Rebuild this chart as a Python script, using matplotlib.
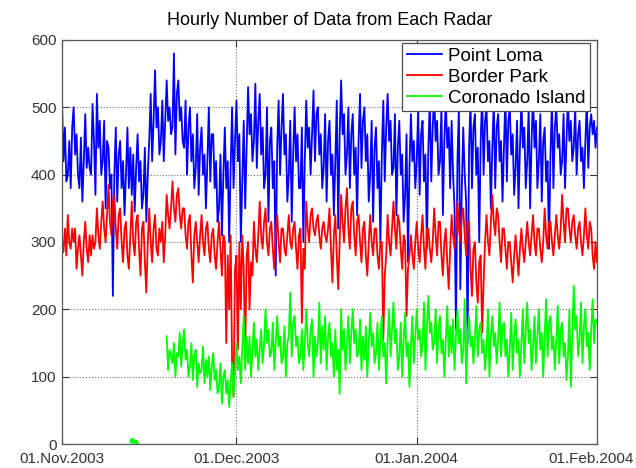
import pandas as pd
import matplotlib
matplotlib.use("Agg")
import matplotlib.pyplot as plt
import matplotlib.transforms as mtransforms

# 6-hourly values (data count per hour), one row = 5 days
point_loma = [
    510, 420, 470, 390, 400, 450, 380, 470, 500, 430, 460, 400, 380, 455, 360, 420, 490, 410, 440, 410,
    400, 505, 450, 370, 520, 440, 480, 400, 420, 480, 350, 450, 440, 380, 400, 220, 400, 470, 360, 430,
    450, 380, 420, 340, 400, 470, 380, 440, 370, 430, 345, 410, 460, 390, 420, 350, 370, 440, 330, 400,
    450, 520, 420, 480, 555, 470, 500, 430, 450, 510, 420, 480, 540, 480, 500, 460, 470, 580, 430, 520,
    540, 480, 500, 450, 440, 510, 400, 470, 500, 420, 460, 380, 410, 490, 370, 440, 470, 400, 430, 350,
    420, 500, 390, 460, 460, 380, 420, 330, 350, 430, 310, 400, 470, 380, 420, 300, 410, 500, 380, 450,
    510, 420, 460, 300, 390, 480, 350, 440, 530, 460, 490, 420, 450, 535, 410, 480, 520, 430, 470, 380,
    400, 500, 330, 450, 470, 380, 420, 250, 440, 510, 400, 470, 520, 430, 460, 360, 400, 480, 330, 430,
    500, 420, 460, 380, 380, 470, 300, 420, 510, 440, 470, 400, 460, 525, 420, 490, 500, 430, 460, 380,
    410, 490, 360, 450, 480, 400, 430, 340, 420, 510, 320, 460, 540, 460, 490, 400, 430, 500, 380, 460,
    490, 400, 440, 340, 450, 520, 410, 480, 500, 420, 460, 360, 400, 480, 330, 440, 470, 380, 420, 300,
    430, 510, 390, 470, 520, 450, 480, 400, 410, 490, 340, 440, 480, 400, 430, 330, 370, 460, 270, 410,
    490, 420, 450, 380, 420, 500, 370, 460, 480, 390, 430, 290, 440, 510, 390, 470, 520, 450, 480, 400,
    420, 500, 340, 450, 510, 440, 470, 380, 480, 400, 350, 170, 420, 500, 230, 380, 470, 400, 360, 150,
    440, 510, 380, 470, 490, 400, 440, 300, 450, 520, 400, 480, 500, 420, 450, 350, 440, 510, 380, 470,
    490, 420, 450, 360, 440, 520, 390, 480, 500, 430, 460, 370, 410, 480, 350, 440, 510, 440, 470, 380,
    420, 500, 350, 450, 520, 440, 480, 380, 420, 490, 360, 450, 470, 390, 420, 290, 430, 510, 380, 470,
    500, 440, 460, 400, 420, 490, 380, 450, 510, 450, 480, 420, 440, 500, 400, 460, 480, 420, 440, 380,
    450, 510, 410, 470, 490, 460, 480, 440,
    470,
]
border_park = [
    300, 285, 320, 280, 340, 300, 290, 320, 300, 320, 260, 290, 310, 280, 250, 300, 330, 290, 270, 310,
    280, 310, 290, 300, 350, 310, 290, 330, 360, 320, 300, 340, 385, 330, 310, 360, 370, 320, 290, 340,
    350, 300, 270, 320, 330, 280, 260, 310, 360, 300, 280, 330, 340, 290, 250, 320, 330, 270, 225, 300,
    350, 300, 270, 320, 340, 290, 280, 320, 300, 330, 270, 310, 370, 340, 320, 350, 390, 350, 330, 370,
    380, 340, 320, 350, 350, 310, 290, 330, 340, 280, 240, 310, 330, 300, 270, 310, 340, 300, 280, 320,
    330, 290, 270, 310, 320, 280, 260, 300, 330, 290, 250, 310, 300, 150, 280, 200, 310, 120, 70, 260,
    280, 140, 300, 200, 310, 260, 130, 280, 300, 200, 270, 250, 330, 290, 270, 310, 360, 310, 290, 330,
    350, 300, 280, 320, 330, 290, 260, 310, 340, 300, 270, 320, 320, 290, 280, 310, 340, 300, 290, 320,
    330, 290, 260, 310, 320, 180, 290, 260, 360, 320, 300, 340, 350, 320, 310, 330, 340, 310, 290, 320,
    330, 310, 300, 320, 350, 290, 240, 310, 340, 280, 230, 300, 370, 330, 300, 350, 380, 320, 290, 350,
    360, 310, 280, 330, 340, 300, 270, 320, 330, 280, 250, 300, 340, 300, 280, 320, 320, 280, 260, 300,
    300, 155, 250, 280, 340, 300, 280, 320, 360, 320, 290, 340, 330, 290, 260, 310, 300, 190, 260, 280,
    310, 280, 260, 300, 330, 290, 270, 310, 340, 290, 260, 320, 320, 290, 270, 300, 350, 310, 280, 330,
    330, 280, 250, 300, 320, 270, 230, 290, 340, 310, 290, 320, 360, 320, 300, 340, 350, 310, 280, 330,
    330, 260, 220, 290, 300, 240, 210, 270, 280, 165, 240, 300, 340, 300, 280, 330, 370, 330, 310, 350,
    340, 300, 270, 320, 320, 290, 260, 300, 300, 270, 240, 280, 310, 280, 250, 290, 320, 290, 270, 300,
    330, 300, 280, 310, 340, 300, 280, 320, 320, 290, 270, 300, 350, 310, 290, 330, 330, 300, 280, 310,
    340, 310, 290, 320, 370, 330, 300, 350, 350, 320, 300, 330, 340, 310, 290, 320, 330, 300, 280, 310,
    350, 310, 290, 330, 320, 280, 260, 300,
    270,
]
coronado = [
    160, 110, 140, 130, 120, 150, 100, 135,
    130, 165, 115, 150, 170, 125, 140, 100, 115, 150, 95, 130, 140, 85, 120, 105, 110, 145, 90, 125,
    100, 130, 80, 115, 135, 95, 110, 75, 85, 120, 60, 100, 110, 75, 95, 55, 90, 120, 70, 105,
    150, 110, 130, 90, 140, 190, 110, 160, 120, 160, 100, 140, 180, 130, 155, 110, 140, 170, 120, 150,
    200, 150, 170, 130, 135, 180, 110, 150, 190, 145, 160, 120, 130, 175, 100, 150, 160, 225, 130, 180,
    190, 145, 160, 120, 130, 170, 110, 150, 200, 150, 130, 170, 185, 100, 160, 130, 150, 210, 120, 175,
    140, 190, 110, 160, 180, 130, 150, 100, 170, 110, 140, 75, 200, 140, 170, 110, 150, 190, 120, 165,
    200, 150, 170, 130, 135, 185, 110, 160, 125, 175, 100, 150, 195, 145, 165, 120, 135, 180, 110, 155,
    190, 130, 150, 90, 155, 200, 130, 170, 210, 150, 170, 110, 130, 180, 100, 155, 195, 130, 150, 85,
    145, 190, 120, 160, 200, 155, 170, 130, 150, 210, 110, 175, 220, 165, 180, 140, 150, 200, 120, 170,
    190, 135, 155, 100, 155, 205, 130, 175, 135, 185, 110, 160, 200, 150, 170, 120, 140, 215, 90, 160,
    190, 145, 160, 120, 155, 205, 130, 170, 180, 135, 155, 110, 140, 200, 100, 160, 190, 145, 165, 120,
    155, 210, 130, 175, 180, 130, 155, 100, 140, 195, 110, 160, 185, 135, 155, 100, 150, 200, 120, 170,
    210, 150, 170, 110, 145, 190, 120, 160, 200, 140, 165, 100, 160, 215, 130, 180, 190, 140, 160, 110,
    155, 205, 120, 170, 180, 130, 150, 95, 130, 200, 85, 160, 235, 170, 190, 130, 155, 210, 120, 175,
    200, 145, 165, 110, 170, 215, 150, 185,
    180,
]
coronado_early = [3, 7, 2, 8, 5, 0, 6, 4, 1, 5, 2, 0]

t_main = pd.date_range("2003-11-01", periods=len(point_loma), freq="6h")
t_cor = pd.date_range("2003-11-19", periods=len(coronado), freq="6h")
t_early = pd.date_range("2003-11-12 18:00", periods=len(coronado_early), freq="3h")

tick_dates = pd.to_datetime(["2003-11-01", "2003-12-01", "2004-01-01", "2004-02-01"])
tick_labels = ["01.Nov.2003", "01.Dec.2003", "01.Jan.2004", "01.Feb.2004"]

plt.rcParams["font.family"] = ["Liberation Sans", "DejaVu Sans"]

fig = plt.figure(figsize=(6.36, 4.68), dpi=100)
ax = fig.add_axes([62 / 636, 1 - 444 / 468, 535 / 636, 404 / 468])

ax.plot(t_main, point_loma, color=(0, 0, 1), lw=1.3, label="Point Loma")
ax.plot(t_main, border_park, color=(1, 0, 0), lw=1.3, label="Border Park")
ax.plot(t_cor, coronado, color=(0, 1, 0), lw=1.3, label="Coronado Island")
ax.plot(t_early, coronado_early, color=(0, 1, 0), lw=1.3)

ax.set_xlim(tick_dates[0], tick_dates[-1])
ax.set_ylim(0, 600)
ax.set_xticks(tick_dates)
ax.set_xticklabels(tick_labels)
ax.set_yticks(range(0, 601, 100))
ax.tick_params(direction="in", top=True, right=True, length=5, width=0.8,
               labelsize=11, colors="0.2", pad=4)
ax.tick_params(axis="x", pad=6)
for sp in ax.spines.values():
    sp.set_color("0.35")
    sp.set_linewidth(0.9)
ax.grid(True, linestyle=":", color="0.45", linewidth=0.8)

# keep the last date label inside the figure
xlabels = ax.get_xticklabels()
xlabels[-1].set_transform(xlabels[-1].get_transform()
                          + mtransforms.ScaledTranslation(-6 / 100, 0, fig.dpi_scale_trans))

ax.set_title("Hourly Number of Data from Each Radar", fontsize=13, pad=11)

leg = ax.legend(loc="upper right", bbox_to_anchor=((590 - 62) / 535, (444 - 43) / 404),
                borderaxespad=0, fontsize=13.5, fancybox=False, framealpha=1,
                edgecolor="0.3", handlelength=1.9, handletextpad=0.3,
                labelspacing=0.2, borderpad=0.25)
leg.get_frame().set_linewidth(0.9)

fig.savefig("out.png", dpi=100)
